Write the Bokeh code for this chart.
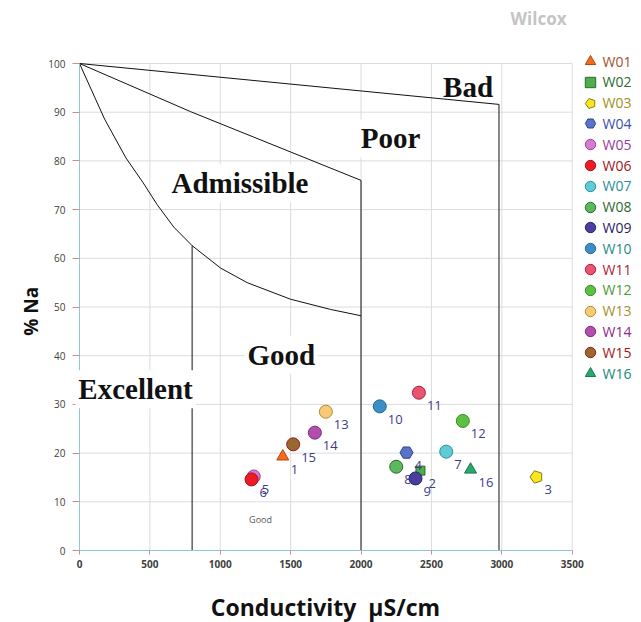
import numpy as np
from bokeh.plotting import figure
from bokeh.models import Range1d, Label, Legend, LegendItem, ColumnDataSource
from bokeh.core.properties import value
from bokeh.embed import file_html
from bokeh.resources import INLINE

# ---- data ----
names = ["W01", "W02", "W03", "W04", "W05", "W06", "W07", "W08",
         "W09", "W10", "W11", "W12", "W13", "W14", "W15", "W16"]
point_labels = ["1", "2", "3", "4", "5", "6", "7", "8",
                "9", "10", "11", "12", "13", "14", "15", "16"]
conductivity = [1444, 2422, 3246, 2323, 1238, 1222, 2605, 2250,
                2387, 2133, 2411, 2723, 1750, 1672, 1518, 2778]
na_percent = [19.3, 16.4, 15.1, 20.1, 15.2, 14.6, 20.3, 17.2,
              14.8, 29.6, 32.4, 26.6, 28.5, 24.2, 21.8, 16.6]
markers = ["triangle", "square", "pentagon", "hex", "circle", "circle", "circle", "circle",
           "circle", "circle", "circle", "circle", "circle", "circle", "circle", "triangle"]
fills = ["#f26b21", "#4cae4c", "#f7e620", "#5a72c8", "#d77bd0", "#ed1c24", "#5ecbd6", "#5cb85c",
         "#4a3f9e", "#3b8ec7", "#ea5470", "#5cc043", "#f9c978", "#b24fad", "#98692e", "#2aa86a"]
outlines = ["#b34700", "#2d6a2d", "#8c7d10", "#2e4290", "#9c3f98", "#a3141a", "#2a8f99", "#2d6a2d",
            "#2a2266", "#1f6b8a", "#a8203c", "#3a8a2a", "#a89030", "#7e2a7a", "#a01818", "#17785a"]
text_colors = ["#a0522d", "#2e6b30", "#a09020", "#3a4fb0", "#9c3a9c", "#a3141a", "#2a8f99", "#2e6b30",
               "#2a2266", "#1f8a8a", "#b0203c", "#4a9a30", "#a89030", "#8a2a8a", "#a01818", "#17887a"]

# Wilcox diagram boundaries
bad_x = [0, 2980]
bad_y = [100, 91.6]
poor_x = [0, 790, 2000]
poor_y = [100, 90.1, 76.0]
adm_x = [0, 178, 330, 450, 552, 670, 800, 1002, 1191, 1499, 1783, 2000]
adm_y = [100, 88.6, 80.6, 75.6, 71.0, 66.4, 62.6, 58.0, 55.0, 51.6, 49.5, 48.2]
v800_x, v800_y = [800, 800], [0, 62.6]
v2000_x, v2000_y = [2000, 2000], [0, 76.0]
v2980_x, v2980_y = [2980, 2980], [0, 91.6]

zone_names = ["Bad", "Poor", "Admissible", "Good", "Excellent"]
zone_x = [2760, 2209, 1140, 1434, 398]
zone_y = [95.1, 84.6, 75.4, 40.2, 33.1]
zone_boxed = [False, True, True, True, True]

x_ticks = [0, 500, 1000, 1500, 2000, 2500, 3000, 3500]
y_ticks = [0, 10, 20, 30, 40, 50, 60, 70, 80, 90, 100]
x_max, y_max = 3500, 100

# ---- figure: the frame fills the canvas, axes sit at x=0 / y=0 ----
W, H = 641, 622
ox, oy = 79, 550                 # canvas pixel of the (0, 0) corner
sx, sy = 492.7 / x_max, 487.0 / y_max   # pixels per data unit
p = figure(width=W, height=H, output_backend="svg", toolbar_location=None,
           x_range=Range1d(-ox / sx, (W - ox) / sx),
           y_range=Range1d(-(H - oy) / sy, oy / sy),
           min_border=0)
p.background_fill_color = "white"
p.border_fill_color = "white"
p.outline_line_color = None
p.xgrid.visible = False
p.ygrid.visible = False

# grid limited to the chart area
p.segment(x0=x_ticks, y0=[0] * len(x_ticks), x1=x_ticks, y1=[y_max] * len(x_ticks),
          line_color="#dcdcdc", line_width=1)
p.segment(x0=[0] * len(y_ticks), y0=y_ticks, x1=[x_max] * len(y_ticks), y1=y_ticks,
          line_color="#dcdcdc", line_width=1)

p.xaxis.ticker = x_ticks
p.yaxis.ticker = y_ticks
p.xaxis.bounds = (0, x_max)
p.yaxis.bounds = (0, y_max)
p.xaxis.fixed_location = 0
p.yaxis.fixed_location = 0

for ax in (p.xaxis[0], p.yaxis[0]):
    ax.axis_line_color = "#8cc8d8"
    ax.major_tick_line_color = "#d08a8a"
    ax.minor_tick_line_color = None
    ax.major_tick_in = 0
    ax.major_label_text_color = "#404040"
    ax.major_label_text_font = "Open Sans"
    ax.major_label_text_font_size = "10px"

p.xaxis.major_tick_out = 4
p.xaxis.major_label_standoff = 5
p.xaxis.major_label_text_font_style = "bold"
p.yaxis.major_tick_out = 7
p.yaxis.major_label_standoff = 7

# axis titles
p.add_layout(Label(x=-348, y=49.1, text="% Na", angle=np.pi / 2,
                   text_align="center", text_baseline="middle",
                   text_font="Open Sans", text_font_style="bold",
                   text_font_size="19px", text_color="#111111"))
p.add_layout(Label(x=1747, y=-11.7, text="Conductivity\u00a0 µS/cm",
                   text_align="center", text_baseline="middle",
                   text_font="Open Sans", text_font_style="bold",
                   text_font_size="23px", text_color="#111111"))

# boundaries
for bx, by in [(bad_x, bad_y), (poor_x, poor_y), (adm_x, adm_y),
               (v800_x, v800_y), (v2000_x, v2000_y), (v2980_x, v2980_y)]:
    p.line(bx, by, line_color="#111111", line_width=1)

# zone labels
for t, zx, zy, boxed in zip(zone_names, zone_x, zone_y, zone_boxed):
    p.add_layout(Label(x=zx, y=zy, text=t, text_align="center", text_baseline="middle",
                       text_font="Liberation Serif", text_font_style="bold",
                       text_font_size="29px", text_color="#111111",
                       background_fill_color="white" if boxed else None, padding=3))

p.add_layout(Label(x=1286, y=6.4, text="Good", text_align="center", text_baseline="middle",
                   text_font="Open Sans", text_font_size="9px", text_color="#555555"))

p.add_layout(Label(x=3261, y=109.2, text="Wilcox", text_align="center", text_baseline="middle",
                   text_font="Open Sans", text_font_style="bold",
                   text_font_size="17px", text_color="#c4c4c4"))

# points
renderers = []
for i in range(len(names)):
    src = ColumnDataSource(dict(x=[conductivity[i]], y=[na_percent[i]]))
    m = markers[i]
    if m == "pentagon":
        r = p.ngon(x="x", y="y", radius=6.5, radius_units="screen", n=5, angle=np.pi / 2,
                   fill_color=fills[i], line_color=outlines[i], line_width=1, source=src)
    else:
        size = {"circle": 13, "triangle": 12, "square": 9, "hex": 13}[m]
        r = p.scatter(x="x", y="y", marker=m, size=size, fill_color=fills[i],
                      line_color=outlines[i], line_width=1, source=src)
    renderers.append(r)

p.text(x=conductivity, y=na_percent, text=point_labels, x_offset=8, y_offset=13,
       text_align="left", text_baseline="middle", text_font=value("Open Sans"),
       text_font_size="13px", text_color="#3c3c8e")

# per-item legends (each with its own text colour)
for i, r in enumerate(renderers):
    lg = Legend(items=[LegendItem(label=names[i], renderers=[r])],
                location=(576.5, 548 - 20.8 * i),
                padding=0, margin=0, spacing=0,
                glyph_width=26, glyph_height=26, label_height=26, label_standoff=0,
                label_text_font="Open Sans", label_text_font_size="14px",
                label_text_color=text_colors[i], label_text_baseline="middle",
                border_line_color=None, background_fill_alpha=0)
    p.add_layout(lg)

open("out.html", "w").write(file_html(p, INLINE))
